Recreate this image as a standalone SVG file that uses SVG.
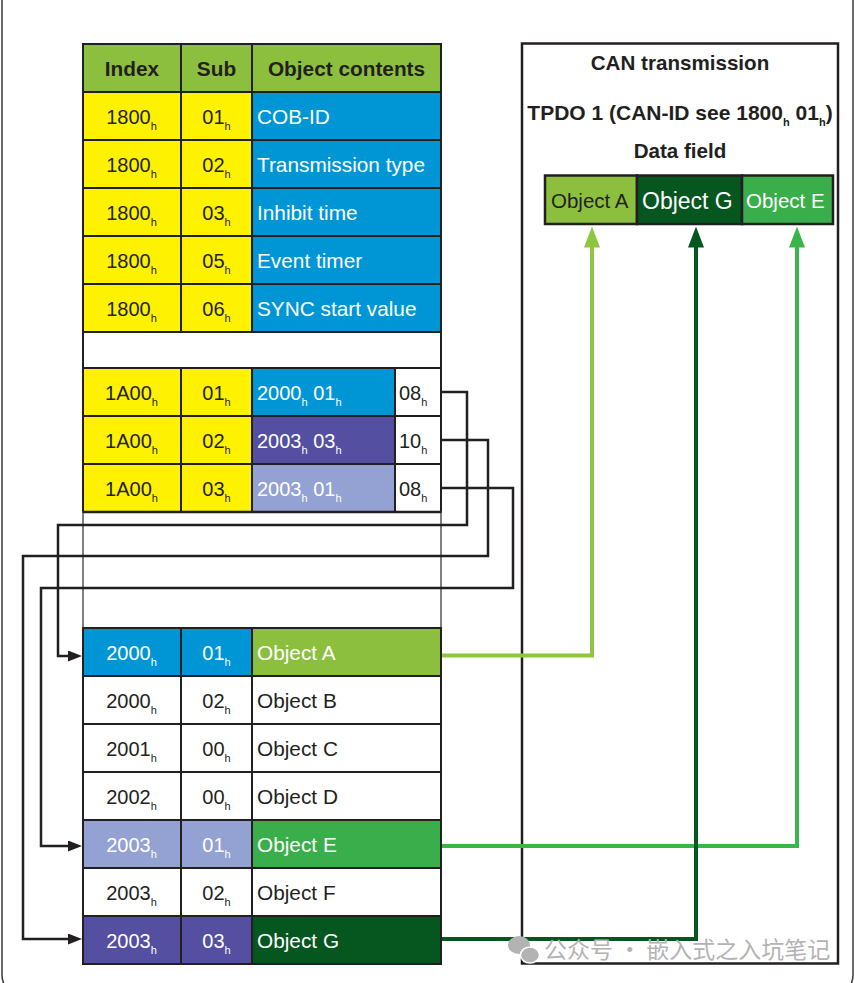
<svg xmlns="http://www.w3.org/2000/svg" width="855" height="983" viewBox="0 0 855 983">
<style>
.c{stroke:#231f20;stroke-width:2}
.t{font-family:"Liberation Sans",Arial,Helvetica,sans-serif;font-size:20px;fill:#231f20}
.o{font-size:20.8px}
.w{fill:#fff}
.b{font-weight:bold}
.s{font-size:11px}
.m{text-anchor:middle}
.yel{fill:#fff200}.blu{fill:#0096d6}.pur{fill:#544fa0}.lpu{fill:#93a2d3}.hdr{fill:#8dbf3f}
.ga{fill:#8dbf3f}.ge{fill:#39ae4a}.gg{fill:#05561f}.wh{fill:#fff}
.con{fill:none;stroke:#231f20;stroke-width:2.5;stroke-linejoin:miter}
.gl{fill:none;stroke-width:4}
</style>
<defs>
<marker id="ak" markerUnits="userSpaceOnUse" markerWidth="14" markerHeight="11" refX="8" refY="5.5" orient="auto"><path d="M0,0 L14,5.5 L0,11 z" fill="#231f20"/></marker>
<marker id="aa" markerUnits="userSpaceOnUse" markerWidth="21" markerHeight="16" refX="7.5" refY="8" orient="auto"><path d="M0,0 L21,8 L0,16 z" fill="#8dc63f"/></marker>
<marker id="ae" markerUnits="userSpaceOnUse" markerWidth="21" markerHeight="16" refX="7.5" refY="8" orient="auto"><path d="M0,0 L21,8 L0,16 z" fill="#39b54a"/></marker>
<marker id="ag" markerUnits="userSpaceOnUse" markerWidth="21" markerHeight="16" refX="7.5" refY="8" orient="auto"><path d="M0,0 L21,8 L0,16 z" fill="#05561f"/></marker>
</defs>
<rect width="855" height="983" fill="#fff"/>
<rect x="2" y="-30" width="851" height="1025" rx="20" fill="none" stroke="#3a3a3a" stroke-width="1.5"/>

<g id="header">
<rect class="c hdr" x="83" y="44" width="98" height="48"/>
<rect class="c hdr" x="181" y="44" width="71" height="48"/>
<rect class="c hdr" x="252" y="44" width="189" height="48"/>
<text class="t b m o" x="132" y="76">Index</text>
<text class="t b m o" x="216.5" y="76">Sub</text>
<text class="t b m o" x="346.5" y="76">Object contents</text>
</g>

<g id="r1800-01">
<rect class="c yel" x="83" y="92" width="98" height="48"/><rect class="c yel" x="181" y="92" width="71" height="48"/><rect class="c blu" x="252" y="92" width="189" height="48"/>
<text class="t m" x="131.5" y="124">1800<tspan class="s" dy="6">h</tspan></text>
<text class="t m" x="216.5" y="124">01<tspan class="s" dy="6">h</tspan></text>
<text class="t w o" x="257" y="124">COB-ID</text>
</g>
<g id="r1800-02">
<rect class="c yel" x="83" y="140" width="98" height="48"/><rect class="c yel" x="181" y="140" width="71" height="48"/><rect class="c blu" x="252" y="140" width="189" height="48"/>
<text class="t m" x="131.5" y="172">1800<tspan class="s" dy="6">h</tspan></text>
<text class="t m" x="216.5" y="172">02<tspan class="s" dy="6">h</tspan></text>
<text class="t w o" x="257" y="172">Transmission type</text>
</g>
<g id="r1800-03">
<rect class="c yel" x="83" y="188" width="98" height="48"/><rect class="c yel" x="181" y="188" width="71" height="48"/><rect class="c blu" x="252" y="188" width="189" height="48"/>
<text class="t m" x="131.5" y="220">1800<tspan class="s" dy="6">h</tspan></text>
<text class="t m" x="216.5" y="220">03<tspan class="s" dy="6">h</tspan></text>
<text class="t w o" x="257" y="220">Inhibit time</text>
</g>
<g id="r1800-05">
<rect class="c yel" x="83" y="236" width="98" height="48"/><rect class="c yel" x="181" y="236" width="71" height="48"/><rect class="c blu" x="252" y="236" width="189" height="48"/>
<text class="t m" x="131.5" y="268">1800<tspan class="s" dy="6">h</tspan></text>
<text class="t m" x="216.5" y="268">05<tspan class="s" dy="6">h</tspan></text>
<text class="t w o" x="257" y="268">Event timer</text>
</g>
<g id="r1800-06">
<rect class="c yel" x="83" y="284" width="98" height="48"/><rect class="c yel" x="181" y="284" width="71" height="48"/><rect class="c blu" x="252" y="284" width="189" height="48"/>
<text class="t m" x="131.5" y="316">1800<tspan class="s" dy="6">h</tspan></text>
<text class="t m" x="216.5" y="316">06<tspan class="s" dy="6">h</tspan></text>
<text class="t w o" x="257" y="316">SYNC start value</text>
</g>
<g id="gap1"><rect class="c wh" x="83" y="332" width="358" height="36"/></g>

<g id="r1A00-01">
<rect class="c yel" x="83" y="368" width="98" height="48"/><rect class="c yel" x="181" y="368" width="71" height="48"/><rect class="c blu" x="252" y="368" width="143" height="48"/><rect class="c wh" x="395" y="368" width="46" height="48"/>
<text class="t m" x="131.5" y="400">1A00<tspan class="s" dy="6">h</tspan></text>
<text class="t m" x="216.5" y="400">01<tspan class="s" dy="6">h</tspan></text>
<text class="t w" x="257" y="400">2000<tspan class="s" dy="6">h</tspan><tspan dy="-6"> 01</tspan><tspan class="s" dy="6">h</tspan></text>
<text class="t" x="399" y="400">08<tspan class="s" dy="6">h</tspan></text>
</g>
<g id="r1A00-02">
<rect class="c yel" x="83" y="416" width="98" height="48"/><rect class="c yel" x="181" y="416" width="71" height="48"/><rect class="c pur" x="252" y="416" width="143" height="48"/><rect class="c wh" x="395" y="416" width="46" height="48"/>
<text class="t m" x="131.5" y="448">1A00<tspan class="s" dy="6">h</tspan></text>
<text class="t m" x="216.5" y="448">02<tspan class="s" dy="6">h</tspan></text>
<text class="t w" x="257" y="448">2003<tspan class="s" dy="6">h</tspan><tspan dy="-6"> 03</tspan><tspan class="s" dy="6">h</tspan></text>
<text class="t" x="399" y="448">10<tspan class="s" dy="6">h</tspan></text>
</g>
<g id="r1A00-03">
<rect class="c yel" x="83" y="464" width="98" height="48"/><rect class="c yel" x="181" y="464" width="71" height="48"/><rect class="c lpu" x="252" y="464" width="143" height="48"/><rect class="c wh" x="395" y="464" width="46" height="48"/>
<text class="t m" x="131.5" y="496">1A00<tspan class="s" dy="6">h</tspan></text>
<text class="t m" x="216.5" y="496">03<tspan class="s" dy="6">h</tspan></text>
<text class="t w" x="257" y="496">2003<tspan class="s" dy="6">h</tspan><tspan dy="-6"> 01</tspan><tspan class="s" dy="6">h</tspan></text>
<text class="t" x="399" y="496">08<tspan class="s" dy="6">h</tspan></text>
</g>
<g id="gap2"><rect x="83" y="512" width="358" height="116" fill="#fff" stroke="#555" stroke-width="1.5"/><line x1="83" y1="512" x2="441" y2="512" stroke="#231f20" stroke-width="2.5"/></g>

<g id="r2000-01">
<rect class="c blu" x="83" y="628" width="98" height="48"/><rect class="c blu" x="181" y="628" width="71" height="48"/><rect class="c ga" x="252" y="628" width="189" height="48"/>
<text class="t m w" x="131.5" y="660">2000<tspan class="s" dy="6">h</tspan></text>
<text class="t m w" x="216.5" y="660">01<tspan class="s" dy="6">h</tspan></text>
<text class="t w o" x="257" y="660">Object A</text>
</g>
<g id="r2000-02">
<rect class="c wh" x="83" y="676" width="98" height="48"/><rect class="c wh" x="181" y="676" width="71" height="48"/><rect class="c wh" x="252" y="676" width="189" height="48"/>
<text class="t m" x="131.5" y="708">2000<tspan class="s" dy="6">h</tspan></text>
<text class="t m" x="216.5" y="708">02<tspan class="s" dy="6">h</tspan></text>
<text class="t o" x="257" y="708">Object B</text>
</g>
<g id="r2001-00">
<rect class="c wh" x="83" y="724" width="98" height="48"/><rect class="c wh" x="181" y="724" width="71" height="48"/><rect class="c wh" x="252" y="724" width="189" height="48"/>
<text class="t m" x="131.5" y="756">2001<tspan class="s" dy="6">h</tspan></text>
<text class="t m" x="216.5" y="756">00<tspan class="s" dy="6">h</tspan></text>
<text class="t o" x="257" y="756">Object C</text>
</g>
<g id="r2002-00">
<rect class="c wh" x="83" y="772" width="98" height="48"/><rect class="c wh" x="181" y="772" width="71" height="48"/><rect class="c wh" x="252" y="772" width="189" height="48"/>
<text class="t m" x="131.5" y="804">2002<tspan class="s" dy="6">h</tspan></text>
<text class="t m" x="216.5" y="804">00<tspan class="s" dy="6">h</tspan></text>
<text class="t o" x="257" y="804">Object D</text>
</g>
<g id="r2003-01">
<rect class="c lpu" x="83" y="820" width="98" height="48"/><rect class="c lpu" x="181" y="820" width="71" height="48"/><rect class="c ge" x="252" y="820" width="189" height="48"/>
<text class="t m w" x="131.5" y="852">2003<tspan class="s" dy="6">h</tspan></text>
<text class="t m w" x="216.5" y="852">01<tspan class="s" dy="6">h</tspan></text>
<text class="t w o" x="257" y="852">Object E</text>
</g>
<g id="r2003-02">
<rect class="c wh" x="83" y="868" width="98" height="48"/><rect class="c wh" x="181" y="868" width="71" height="48"/><rect class="c wh" x="252" y="868" width="189" height="48"/>
<text class="t m" x="131.5" y="900">2003<tspan class="s" dy="6">h</tspan></text>
<text class="t m" x="216.5" y="900">02<tspan class="s" dy="6">h</tspan></text>
<text class="t o" x="257" y="900">Object F</text>
</g>
<g id="r2003-03">
<rect class="c pur" x="83" y="916" width="98" height="48"/><rect class="c pur" x="181" y="916" width="71" height="48"/><rect class="c gg" x="252" y="916" width="189" height="48"/>
<text class="t m w" x="131.5" y="948">2003<tspan class="s" dy="6">h</tspan></text>
<text class="t m w" x="216.5" y="948">03<tspan class="s" dy="6">h</tspan></text>
<text class="t w o" x="257" y="948">Object G</text>
</g>

<g id="can-box">
<rect x="522" y="43.5" width="316" height="920" fill="none" stroke="#231f20" stroke-width="2.5"/>
<text class="t b m" x="680" y="70" style="font-size:20.6px">CAN transmission</text>
<text class="t b m" x="680" y="120" style="font-size:21px">TPDO 1 (CAN-ID see 1800<tspan class="s" dy="6">h</tspan><tspan dy="-6"> 01</tspan><tspan class="s" dy="6">h</tspan><tspan dy="-6">)</tspan></text>
<text class="t b m" x="680" y="158" style="font-size:20.6px">Data field</text>
</g>
<g id="data-field">
<rect class="ga" x="545" y="175.5" width="92" height="48.5" stroke="#231f20" stroke-width="2.5"/>
<rect class="gg" x="637" y="175.5" width="105" height="48.5" stroke="#231f20" stroke-width="2.5"/>
<rect class="ge" x="742" y="175.5" width="91" height="48.5" stroke="#231f20" stroke-width="2.5"/>
<text class="t" x="551" y="208" style="font-size:20.5px">Object A</text>
<text class="t w" x="642" y="208.5" style="font-size:23px">Object G</text>
<text class="t w" x="746" y="208" style="font-size:20.5px">Object E</text>
</g>

<g id="connectors">
<path class="con" d="M441,392 H467 V525 H58 V656 H76" marker-end="url(#ak)"/>
<path class="con" d="M441,440 H488 V556 H23 V939 H76" marker-end="url(#ak)"/>
<path class="con" d="M441,488 H513 V588 H41 V846 H76" marker-end="url(#ak)"/>
<path class="gl" stroke="#8dc63f" d="M442,655.5 H592 V240" marker-end="url(#aa)"/>
<path class="gl" stroke="#39b54a" d="M442,846 H797 V240" marker-end="url(#ae)"/>
<path class="gl" stroke="#05561f" d="M442,939 H696 V240" marker-end="url(#ag)"/>
</g>

<g id="watermark">
<ellipse cx="519" cy="945" rx="11" ry="9" fill="#b3b3b3"/>
<ellipse cx="530" cy="955" rx="9.5" ry="8" fill="#b3b3b3" stroke="#fff" stroke-width="1.5"/>
<text x="544" y="958" style="font-family:'Noto Sans CJK SC','Noto Sans',sans-serif;font-size:23px;fill:#b3b3b3">公众号 · 嵌入式之入坑笔记</text>
</g>
</svg>
